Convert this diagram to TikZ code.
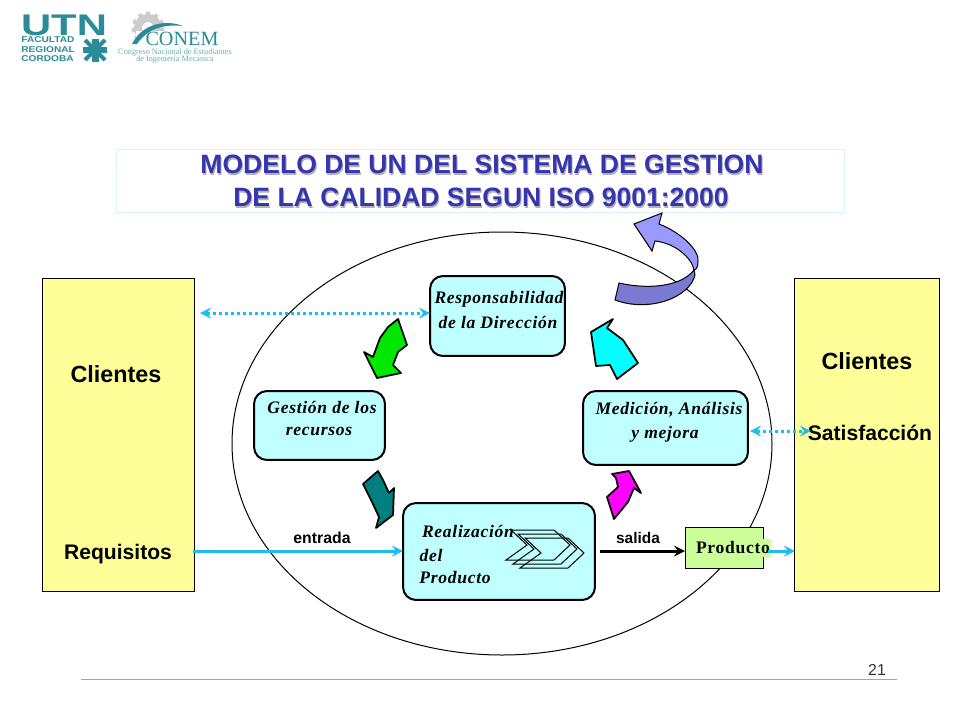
\documentclass[tikz,border=0pt]{standalone}
\usepackage{fontspec}
\usepackage{tikz}
\setmainfont{Liberation Sans}
\newfontfamily\cursiva[LetterSpace=4]{Liberation Serif}
\newfontfamily\serifa{Liberation Serif}
\definecolor{celeste}{HTML}{BFFFFF}
\definecolor{amarillo}{HTML}{FFFF99}
\definecolor{verdecaja}{HTML}{CCFF99}
\definecolor{flecha}{HTML}{1FBDEE}
\definecolor{titulo}{HTML}{3535B0}
\definecolor{teallogo}{HTML}{2A8C98}
\definecolor{vivocian}{HTML}{00FFFF}
\definecolor{vivoverde}{HTML}{00E800}
\definecolor{vivoteal}{HTML}{007F7F}
\definecolor{vivomag}{HTML}{FF00FF}
\definecolor{lilaclaro}{HTML}{9999FF}
\definecolor{lilaoscuro}{HTML}{7A7AD2}
\tikzset{
	caja/.style={draw=black, line width=.04cm, rounded corners=.26cm, fill=celeste, inner sep=0pt},
	cliente/.style={draw=black, line width=.02cm, fill=amarillo, inner sep=0pt},
	proceso/.style={font=\fontsize{10}{10}\cursiva\bfseries\itshape, inner sep=0pt},
	rotulo/.style={font=\fontsize{12}{12}\bfseries, inner sep=0pt},
	giro/.style={draw=black, line width=.035cm, line join=round},
	siglas/.style={inner sep=0pt, text=teallogo, font=\fontsize{4.8}{4.8}\bfseries, anchor=west, xscale=1.2, transform shape},
	punteada/.style={draw=flecha, line width=.06cm, dash pattern=on .06cm off .06cm, <->, >=stealth},
	llena/.style={draw=flecha, line width=.06cm, ->, >=stealth}
}
\begin{document}
\begin{tikzpicture}[x=.02cm, y=-.02cm]
	\useasboundingbox[fill=white] (0,0) rectangle (960,720);

	\node[inner sep=0pt, text=teallogo, font=\fontsize{17}{17}\bfseries, xscale=1.4, transform shape, text depth=0pt, anchor=base] (utn) at (64,35) {UTN};
	\node[siglas] (facultad) at (21,40) {FACULTAD};
	\node[siglas] (regional) at (21,50) {REGIONAL};
	\node[siglas] (cordoba) at (21,59) {CORDOBA};
	\draw[teallogo, line width=.14cm] (83,50)--(107,50)  (95,39)--(95,62);
	\draw[teallogo, line width=.08cm] (85,40)--(93,48)  (105,40)--(97,48)  (85,60)--(93,52)  (105,60)--(97,52);
	\draw[gray!40, line width=.16cm] (148,28) circle (10);
	\draw[gray!40, line width=.1cm, dash pattern=on .08cm off .08cm] (148,28) circle (14);
	\fill[white] (136,44) rectangle (200,31);
	\fill[teallogo] (132,44) .. controls (142,24) and (165,19) .. (183,26) .. controls (165,24) and (148,28) .. (137,44)--cycle;
	\node[inner sep=0pt, text=teallogo, font=\fontsize{11.5}{11.5}\serifa] (conem) at (182,39) {CONEM};
	\node[inner sep=0pt, text=teallogo!70, font=\fontsize{4.7}{4.7}\serifa] (congreso) at (175,53) {Congreso Nacional de Estudiantes};
	\node[inner sep=0pt, text=teallogo!70, font=\fontsize{4.7}{4.7}\serifa] (ingenieria) at (175,60) {de Ingeniería Mecánica};

	\node[draw=cyan!15, line width=.02cm, minimum width=14.58cm, minimum height=1.28cm, inner sep=0pt] (marco) at (480.5,181) {};
	\node[inner sep=0pt, text=gray!60, font=\fontsize{15.1}{15.1}\bfseries] (sombrauno) at (483,166) {MODELO DE UN DEL SISTEMA DE GESTION};
	\node[inner sep=0pt, text=gray!60, font=\fontsize{15.1}{15.1}\bfseries] (sombrados) at (482,199) {DE LA CALIDAD SEGUN ISO 9001:2000};
	\node[inner sep=0pt, text=titulo, font=\fontsize{15.1}{15.1}\bfseries] (titulouno) at (482,164) {MODELO DE UN DEL SISTEMA DE GESTION};
	\node[inner sep=0pt, text=titulo, font=\fontsize{15.1}{15.1}\bfseries] (titulodos) at (481,197) {DE LA CALIDAD SEGUN ISO 9001:2000};

	\draw[line width=.02cm] (502,443.5) ellipse (270 and 211.5);

	\node[cliente, minimum width=3.04cm, minimum height=6.26cm] (izq) at (118.5,435) {};
	\node[cliente, minimum width=2.9cm, minimum height=6.26cm] (der) at (867,435) {};
	\node[rotulo, font=\fontsize{13.3}{13.3}\bfseries] (clientesizq) at (116,374) {Clientes};
	\node[rotulo] (requisitos) at (118,554) {Requisitos};
	\node[rotulo, font=\fontsize{13.3}{13.3}\bfseries] (clientesder) at (867,361) {Clientes};

	\node[caja, minimum width=2.7cm, minimum height=1.6cm] (resp) at (497.5,316) {};
	\node[caja, minimum width=2.62cm, minimum height=1.38cm] (gestion) at (319.5,425.5) {};
	\node[caja, minimum width=3.3cm, minimum height=1.48cm] (medicion) at (665.5,428) {};
	\node[caja, minimum width=3.84cm, minimum height=1.94cm] (realiz) at (499,551.5) {};
	\node[draw=black, line width=.02cm, fill=verdecaja, minimum width=1.56cm, minimum height=.82cm, inner sep=0pt] (prod) at (724,547.5) {};

	\node[proceso] (textoresp) at (499,299) {Responsabilidad};
	\node[proceso] (textodir) at (498,322) {de la Dirección};
	\node[proceso] (textogestion) at (322,407) {Gestión de los};
	\node[proceso] (textorec) at (319,431) {recursos};
	\node[proceso] (textomed) at (669,410) {Medición, Análisis};
	\node[proceso] (textomejora) at (665,434) {y mejora};

	\draw[line width=.02cm] (511,530)--(554,530)--(570,545)--(554,560)--(506,560)--(527,545)--cycle;
	\draw[line width=.02cm] (518,534)--(561,534)--(577,549)--(561,564)--(513,564)--(534,549)--cycle;
	\draw[line width=.02cm] (525,538)--(568,538)--(584,553)--(568,568)--(520,568)--(541,553)--cycle;

	\node[proceso] (textoreal) at (468,531) {Realización};
	\node[proceso] (textodel) at (431,555) {del};
	\node[proceso] (textoprod) at (455,578) {Producto};
	\node[proceso, fill=verdecaja, font=\fontsize{10}{10}\cursiva\bfseries, inner xsep=.02cm, inner ysep=.06cm] (textoproducto) at (733,548) {Producto};

	\node[inner sep=0pt, font=\fontsize{9}{9}\bfseries] (entrada) at (322,538) {entrada};
	\node[inner sep=0pt, font=\fontsize{8.8}{8.8}\bfseries] (salida) at (638,538) {salida};
	\node[rotulo] (satisf) at (870,433) {Satisfacción};

	\coordinate (puntoizq) at (200,313);
	\coordinate (puntoresp) at (430,313);
	\coordinate (puntomed) at (750,431);
	\coordinate (puntosat) at (811,431);
	\coordinate (puntoreq) at (193,551);
	\coordinate (puntoreal) at (403,551);
	\coordinate (puntosal) at (600,551);
	\coordinate (puntoprod) at (685,551);
	\coordinate (puntover) at (768,551);
	\coordinate (puntoder) at (795,551);

	\draw[punteada] (puntoizq)--(puntoresp);
	\draw[punteada] (puntomed)--(puntosat);
	\draw[llena] (puntoreq)--(puntoreal);
	\draw[black, line width=.06cm, ->, >=stealth] (puntosal)--(puntoprod);
	\draw[llena] (puntover)--(puntoder);

	\filldraw[giro, fill=vivoverde] (398,319)--(407,345)--(398,352)--(393,365)--(401,373)--(377,378)--(364,352)--(373,357)--(380,338)--(388,327)--cycle;
	\filldraw[giro, fill=vivocian] (638,363)--(617,379)--(610,365)--(596,366)--(591,332)--(613,319)--(607,328)--(623,340)--cycle;
	\filldraw[giro, fill=vivoteal] (363,484)--(378,471)--(383,480)--(389,493)--(394,488)--(393,515)--(376,528)--(379,517)--(372,502)--cycle;
	\filldraw[giro, fill=vivomag] (612,474)--(629,471)--(641,493)--(634,488)--(628,502)--(614,519)--(607,497)--(618,487)--(616,478)--cycle;

	\filldraw[draw=black, line width=.02cm, fill=lilaoscuro] (619,283) .. controls (645,289) and (680,288) .. (694,270)--(695,275) .. controls (690,297) and (650,313) .. (615,300)--cycle;
	\filldraw[draw=black, line width=.02cm, fill=lilaclaro] (634,224)--(662,213)--(659,224) .. controls (680,232) and (700,250) .. (698,262) .. controls (698,267) and (696,270) .. (694,270) .. controls (692,258) and (675,243) .. (655,241)--(652,251)--cycle;

	\draw[gray!70, line width=.02cm] (81,679)--(897,679);
	\node[inner sep=0pt, font=\fontsize{9}{9}\selectfont, text=black!80] (pagina) at (877,670) {21};
\end{tikzpicture}
\end{document}
